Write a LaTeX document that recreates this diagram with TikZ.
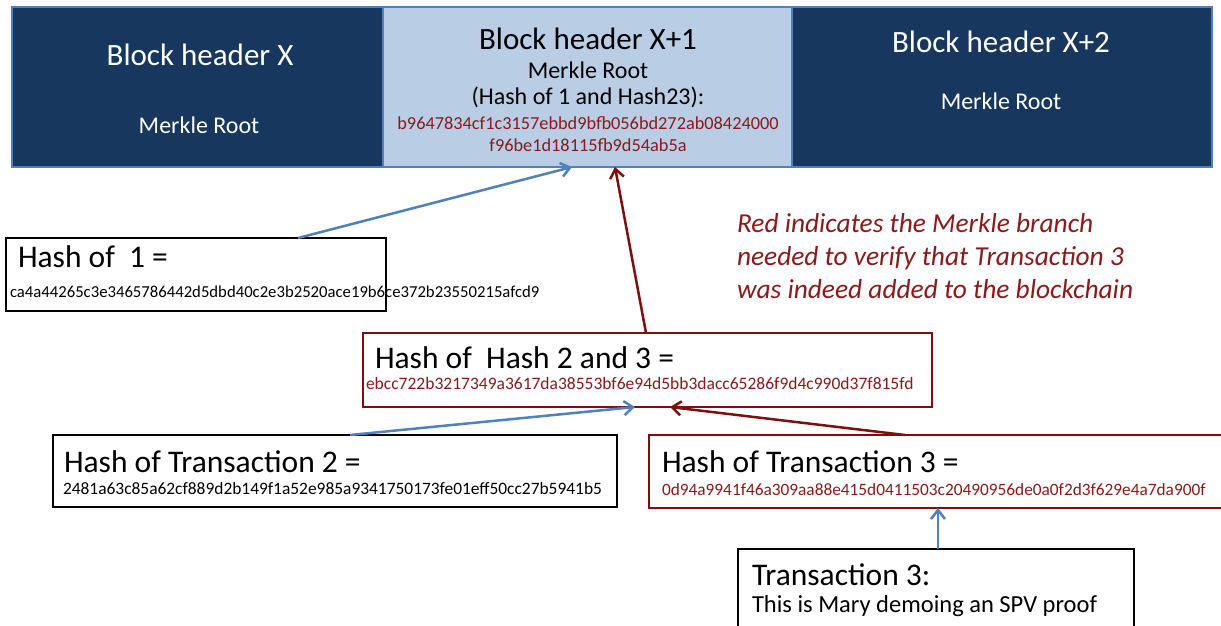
\documentclass[tikz,border=0pt]{standalone}
\usepackage{fontspec}
\setmainfont{Carlito}
\usetikzlibrary{arrows.meta,calc}
\definecolor{navy}{HTML}{17375E}
\definecolor{lightblue}{HTML}{B9CDE5}
\definecolor{bordblue}{HTML}{4F81BD}
\definecolor{txtred}{HTML}{8B1A1A}
\definecolor{boxred}{HTML}{7F0F0F}
\newcommand\fsHdr{\fontsize{31}{37}\selectfont}
\newcommand\fsMr{\fontsize{24}{29}\selectfont}
\newcommand\fsBig{\fontsize{31.5}{37}\selectfont}
\newcommand\fsTx{\fontsize{24.5}{29}\selectfont}
\newcommand\fsTopHash{\fontsize{18.3}{22}\selectfont}
\newcommand\fsHashA{\fontsize{16.7}{21}\selectfont}
\newcommand\fsHashB{\fontsize{17.5}{21}\selectfont}
\newcommand\fsHashC{\fontsize{17.4}{21}\selectfont}
\newcommand\fsHashD{\fontsize{17.3}{21}\selectfont}
\newcommand\fsNote{\fontsize{27.4}{33}\selectfont\itshape}
\tikzset{
  hdrdark/.style={draw=bordblue, line width=2pt, fill=navy, anchor=north west, inner sep=0pt, outer sep=0pt},
  hdrlight/.style={draw=bordblue, line width=2pt, fill=lightblue, anchor=north west, inner sep=0pt, outer sep=0pt},
  blkbox/.style={draw=black, line width=2.8pt, fill=white, anchor=north west, inner sep=0pt, outer sep=0pt},
  redbox/.style={draw=boxred, line width=2.8pt, fill=white, anchor=north west, inner sep=0pt, outer sep=0pt},
  txt/.style={inner sep=0pt, outer sep=0pt},
  barrow/.style={draw=bordblue, line width=2.5pt, -{Straight Barb[length=9pt,width=14pt,line width=2.5pt]}},
  rarrow/.style={draw=boxred, line width=2.5pt, -{Straight Barb[length=9pt,width=14pt,line width=2.5pt]}},
}
\begin{document}
\begin{tikzpicture}[x=1pt,y=-1pt]
\useasboundingbox (0,0) rectangle (1221,626);
\clip (0,0) rectangle (1221,626);
\fill[white] (0,0) rectangle (1221,626);
% top band
\node[hdrdark, minimum width=371, minimum height=160] (bx) at (12,7) {};
\node[hdrdark, minimum width=420, minimum height=160] (bx2) at (792,7) {};
\node[hdrlight, minimum width=409, minimum height=160] (bx1) at (383,7) {};
\node[txt, white, font=\fsHdr, anchor=base] (bxa) at (200,66) {Block header X};
\node[txt, white, font=\fsMr, anchor=base] (bxb) at (199,133) {Merkle Root};
\node[txt, black, font=\fsHdr, anchor=base] (bx1a) at (588,50) {Block header X+1};
\node[txt, black, font=\fsMr, anchor=base] (bx1b) at (588,78) {Merkle Root};
\node[txt, black, font=\fsMr, anchor=base] (bx1c) at (588,104) {(Hash of 1 and Hash23):};
\node[txt, txtred, font=\fsTopHash, anchor=base] (bx1d) at (588,129) {b9647834cf1c3157ebbd9bfb056bd272ab08424000};
\node[txt, txtred, font=\fsTopHash, anchor=base] (bx1e) at (588,151) {f96be1d18115fb9d54ab5a};
\node[txt, white, font=\fsHdr, anchor=base] (bx2a) at (1001,53) {Block header X+2};
\node[txt, white, font=\fsMr, anchor=base] (bx2b) at (1001,110) {Merkle Root};
% hash boxes
\node[blkbox, minimum width=380, minimum height=73] (h1) at (6,238) {};
\node[redbox, minimum width=569, minimum height=74] (h23) at (363,333) {};
\node[blkbox, minimum width=564, minimum height=72] (h2) at (53,435) {};
\node[redbox, minimum width=590, minimum height=73] (h3) at (649,435) {};
\node[blkbox, minimum width=396, minimum height=100] (t3) at (738,549) {};
\node[txt, font=\fsBig, anchor=base west] (h1a) at (18,267) {Hash of\ \ 1 =};
\node[txt, font=\fsHashA, anchor=base west] (h1b) at (10,297) {ca4a44265c3e3465786442d5dbd40c2e3b2520ace19b6ce372b23550215afcd9};
\node[txt, font=\fsBig, anchor=base west] (h23a) at (375,368) {Hash of\ \ Hash 2 and 3 =};
\node[txt, txtred, font=\fsHashB, anchor=base west] (h23b) at (366,389) {ebcc722b3217349a3617da38553bf6e94d5bb3dacc65286f9d4c990d37f815fd};
\node[txt, font=\fsBig, anchor=base west] (h2a) at (64,472) {Hash of Transaction 2 =};
\node[txt, font=\fsHashC, anchor=base west] (h2b) at (63,494) {2481a63c85a62cf889d2b149f1a52e985a9341750173fe01eff50cc27b5941b5};
\node[txt, font=\fsBig, anchor=base west] (h3a) at (662,472) {Hash of Transaction 3 =};
\node[txt, txtred, font=\fsHashD, anchor=base west] (h3b) at (662,495) {0d94a9941f46a309aa88e415d0411503c20490956de0a0f2d3f629e4a7da900f};
\node[txt, font=\fsBig, anchor=base west] (t3a) at (752,585) {Transaction 3:};
\node[txt, font=\fsTx, anchor=base west] (t3b) at (752,612) {This is Mary demoing an SPV proof};
% note
\node[txt, txtred, font=\fsNote, anchor=base west] (n1) at (737,232) {Red indicates the Merkle branch};
\node[txt, txtred, font=\fsNote, anchor=base west] (n2) at (737,265) {needed to verify that Transaction 3};
\node[txt, txtred, font=\fsNote, anchor=base west] (n3) at (737,298) {was indeed added to the blockchain};
% connectors
\draw[barrow] ($(h1.north west)+(292,0)$) -- ($(bx1.south west)+(189,0)$);
\draw[rarrow] ($(h23.north west)+(283,0)$) -- ($(bx1.south west)+(232,0)$);
\draw[barrow] ($(h2.north west)+(297,0)$) -- ($(h23.south west)+(272,0)$);
\draw[rarrow] ($(h3.north west)+(256,0)$) -- ($(h23.south west)+(307,0)$);
\draw[barrow] ($(t3.north west)+(200,0)$) -- ($(h3.south west)+(289,0)$);
\end{tikzpicture}
\end{document}
